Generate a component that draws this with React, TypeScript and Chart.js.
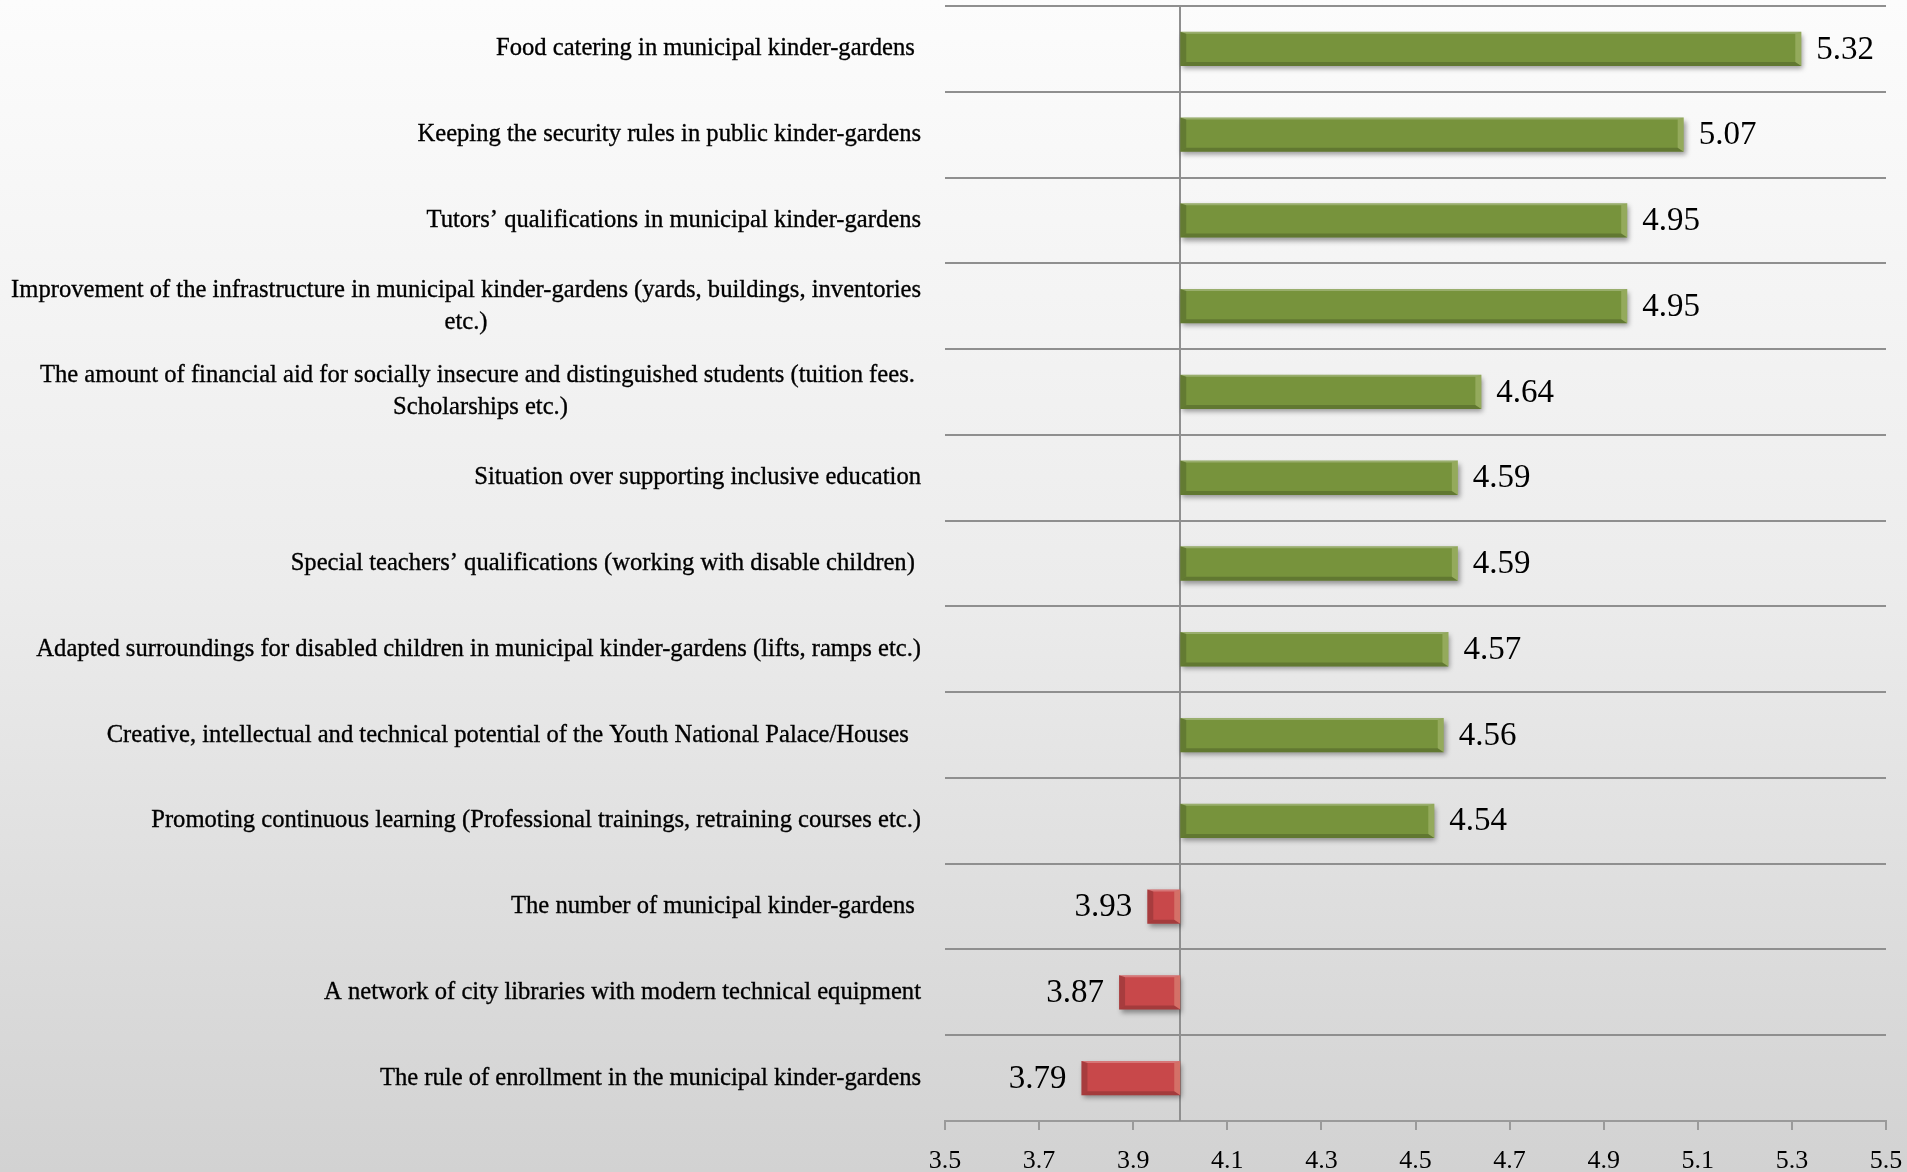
import React, { useEffect, useRef } from "react";
import { Chart, registerables } from "chart.js";

Chart.register(...registerables);

const categories: (string | string[])[] = [
  "Food catering in municipal kinder-gardens ",
  "Keeping the security rules in public kinder-gardens",
  "Tutors’ qualifications in municipal kinder-gardens",
  ["Improvement of the infrastructure in municipal kinder-gardens (yards, buildings, inventories", "etc.)"],
  ["The amount of financial aid for socially insecure and distinguished students (tuition fees. ", "Scholarships etc.)"],
  "Situation over supporting inclusive education",
  "Special teachers’ qualifications (working with disable children) ",
  "Adapted surroundings for disabled children in municipal kinder-gardens (lifts, ramps etc.)",
  "Creative, intellectual and technical potential of the Youth National Palace/Houses  ",
  "Promoting continuous learning (Professional trainings, retraining courses etc.)",
  "The number of municipal kinder-gardens ",
  "A network of city libraries with modern technical equipment",
  "The rule of enrollment in the municipal kinder-gardens",
];

const values: number[] = [5.32, 5.07, 4.95, 4.95, 4.64, 4.59, 4.59, 4.57, 4.56, 4.54, 3.93, 3.87, 3.79];

const baseValue = 4;

const xTicks: number[] = [3.5, 3.7, 3.9, 4.1, 4.3, 4.5, 4.7, 4.9, 5.1, 5.3, 5.5];

const GREEN = "#77933c";
const RED = "#c8484a";
const GRID = "#8f8f8f";
const SERIF = "'Liberation Serif', 'Times New Roman', serif";

const decorPlugin = {
  id: "decor",
  beforeDatasetsDraw(chart: any) {
    const ctx = chart.ctx;
    const area = chart.chartArea;
    const xs = chart.scales.x;
    const px = Math.round(xs.getPixelForValue(baseValue));
    ctx.save();
    ctx.strokeStyle = GRID;
    ctx.lineWidth = 2;
    ctx.beginPath();
    ctx.moveTo(px, area.top);
    ctx.lineTo(px, area.bottom);
    ctx.stroke();
    ctx.restore();
    ctx.save();
    ctx.shadowColor = "rgba(0,0,0,0.38)";
    ctx.shadowBlur = 5;
    ctx.shadowOffsetX = 2;
    ctx.shadowOffsetY = 3;
  },
  afterDatasetsDraw(chart: any) {
    const ctx = chart.ctx;
    ctx.restore();
    const meta = chart.getDatasetMeta(0);
    const b = 6;
    meta.data.forEach((el: any, i: number) => {
      const p = el.getProps(["x", "y", "base", "height"], true);
      const left = Math.min(p.x, p.base);
      const right = Math.max(p.x, p.base);
      const top = p.y - p.height / 2;
      const bottom = p.y + p.height / 2;
      const poly = (pts: number[][], fill: string) => {
        ctx.beginPath();
        ctx.moveTo(pts[0][0], pts[0][1]);
        for (let k = 1; k < pts.length; k++) ctx.lineTo(pts[k][0], pts[k][1]);
        ctx.closePath();
        ctx.fillStyle = fill;
        ctx.fill();
      };
      ctx.save();
      poly([[left, top], [right, top], [right - b, top + 2], [left + b, top + 2]], "rgba(255,255,255,0.25)");
      poly([[left, bottom], [right, bottom], [right - b, bottom - 4], [left + b, bottom - 4]], "rgba(0,0,0,0.18)");
      poly([[left, top], [left + b, top + 2], [left + b, bottom - 4], [left, bottom]], "rgba(0,0,0,0.16)");
      poly([[right, top], [right - b, top + 2], [right - b, bottom - 4], [right, bottom]], "rgba(255,255,210,0.22)");
      ctx.restore();

      // value label
      const v = values[i];
      ctx.save();
      ctx.font = `33px ${SERIF}`;
      ctx.fillStyle = "#000";
      ctx.textBaseline = "middle";
      if (v >= baseValue) {
        ctx.textAlign = "left";
        ctx.fillText(v.toFixed(2), right + 15, p.y + 1);
      } else {
        ctx.textAlign = "right";
        ctx.fillText(v.toFixed(2), left - 15, p.y + 1);
      }
      ctx.restore();
    });

    // category labels
    const ys = chart.scales.y;
    const blockRight = chart.chartArea.left - 24;
    ctx.save();
    ctx.font = `24.6px ${SERIF}`;
    ctx.fillStyle = "#000";
    ctx.strokeStyle = "#000";
    ctx.lineWidth = 0.35;
    ctx.textBaseline = "middle";
    const lineH = 32;
    const put = (t: string, x: number, y: number) => {
      ctx.fillText(t, x, y);
      ctx.strokeText(t, x, y);
    };
    categories.forEach((lab, i) => {
      const cy = ys.getPixelForValue(i);
      if (Array.isArray(lab)) {
        const w = Math.max(...lab.map((l) => ctx.measureText(l).width));
        const cx = blockRight - w / 2;
        ctx.textAlign = "center";
        lab.forEach((l, k) => {
          const yy = cy + (k - (lab.length - 1) / 2) * lineH;
          put(l, cx, yy);
        });
      } else {
        ctx.textAlign = "right";
        put(lab, blockRight, cy);
      }
    });
    ctx.restore();
  },
};

export default function App() {
  const ref = useRef<HTMLCanvasElement>(null);
  useEffect(() => {
    if (!ref.current) return;
    const chart = new Chart(ref.current, {
      type: "bar",
      data: {
        labels: categories.map((c) => (Array.isArray(c) ? c.join(" ") : c)),
        datasets: [
          {
            data: values.map((v) => [baseValue, v]) as any,
            backgroundColor: values.map((v) => (v >= baseValue ? GREEN : RED)),
            borderWidth: 0,
            barPercentage: 0.4,
            categoryPercentage: 1.0,
          },
        ],
      },
      options: {
        indexAxis: "y",
        animation: false,
        responsive: false,
        events: [],
        layout: { padding: { left: 0, right: 21, top: 6, bottom: 0 } },
        plugins: {
          legend: { display: false },
          tooltip: { enabled: false },
        },
        scales: {
          x: {
            type: "linear",
            min: 3.5,
            max: 5.5,
            afterBuildTicks: (scale: any) => {
              scale.ticks = xTicks.map((v) => ({ value: v }));
            },
            afterFit: (scale: any) => {
              scale.height = 51;
              scale.paddingRight = 0;
              scale.paddingLeft = 0;
            },
            grid: {
              drawOnChartArea: false,
              drawTicks: true,
              tickLength: 9,
              color: "#9a9a9a",
              lineWidth: 2,
            },
            border: { display: true, color: "#9a9a9a", width: 2 },
            ticks: {
              padding: 16,
              color: "#000",
              font: { family: SERIF, size: 26 },
              callback: (v: any) => Number(v).toFixed(1),
            },
          },
          y: {
            type: "category",
            offset: true,
            afterFit: (scale: any) => {
              scale.width = 945;
            },
            grid: {
              offset: true,
              drawTicks: false,
              color: GRID,
              lineWidth: 2,
            },
            border: { display: false },
            ticks: { display: false },
          },
        },
      },
      plugins: [decorPlugin],
    });
    return () => chart.destroy();
  }, []);

  return (
    <div
      style={{
        position: "fixed",
        left: 0,
        top: 0,
        width: 1907,
        height: 1172,
        overflow: "hidden",
        background: "linear-gradient(to bottom, #fcfcfc 0%, #ececec 50%, #d2d2d2 100%)",
      }}
    >
      <canvas ref={ref} width={1907} height={1172} style={{ display: "block" }} />
    </div>
  );
}
